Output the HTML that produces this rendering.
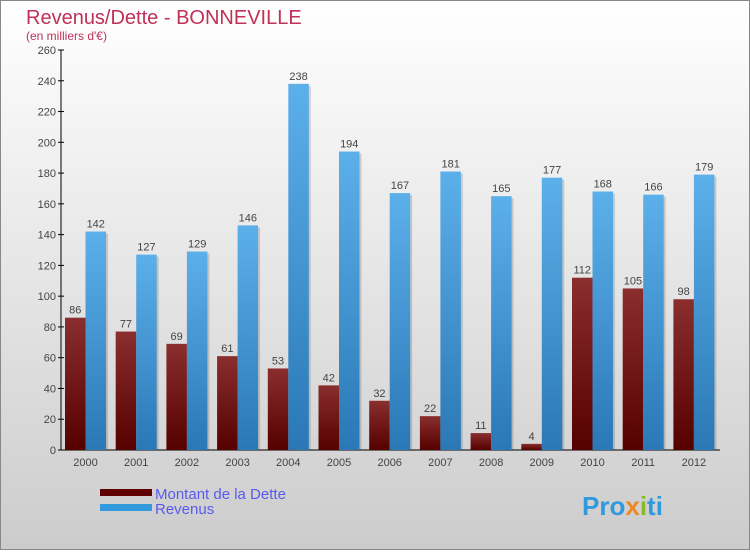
<!DOCTYPE html>
<html><head><meta charset="utf-8"><style>
body{margin:0;width:750px;height:550px;overflow:hidden;font-family:"Liberation Sans",sans-serif}
</style></head><body>
<svg width="750" height="550" xmlns="http://www.w3.org/2000/svg">
<defs>
<linearGradient id="bg" x1="0" y1="0" x2="0" y2="1"><stop offset="0" stop-color="#ffffff"/><stop offset="1" stop-color="#cccccc"/></linearGradient>
<linearGradient id="gd" x1="0" y1="0" x2="0" y2="1"><stop offset="0" stop-color="#8a2e2e"/><stop offset="1" stop-color="#560000"/></linearGradient>
<linearGradient id="gr" x1="0" y1="0" x2="0" y2="1"><stop offset="0" stop-color="#5cb0ea"/><stop offset="1" stop-color="#2a78b6"/></linearGradient>
</defs>
<rect x="0.5" y="0.5" width="749" height="549" fill="url(#bg)" stroke="#888"/>
<text x="26" y="24" font-size="20" fill="#c0305a">Revenus/Dette - BONNEVILLE</text>
<text x="26" y="40" font-size="12" fill="#c0305a">(en milliers d'€)</text>
<g id="axes"></g>
<g id="bars"></g>
<rect x="100" y="489" width="52" height="7" fill="#600000"/>
<text x="155" y="499" font-size="15" fill="#5a5aee">Montant de la Dette</text>
<rect x="100" y="504" width="52" height="7" fill="#3399dd"/>
<text x="155" y="514" font-size="15" fill="#5a5aee">Revenus</text>
<text x="582" y="515" font-size="26" font-weight="bold" fill="#3399dd">Pro<tspan fill="#ee8822">x</tspan><tspan fill="#88bb22">i</tspan>ti</text>
</svg>
<script>
const years=["2000","2001","2002","2003","2004","2005","2006","2007","2008","2009","2010","2011","2012"];
const dette=[86,77,69,61,53,42,32,22,11,4,112,105,98];
const revenus=[142,127,129,146,238,194,167,181,165,177,168,166,179];
const yTicks=[0,20,40,60,80,100,120,140,160,180,200,220,240,260];
const NS="http://www.w3.org/2000/svg";
const y0=450,ppu=400/260,x0=65,step=50.7,bw=20.5;
const y=v=>y0-v*ppu;
const ax=document.getElementById('axes'),bars=document.getElementById('bars');
function mk(tag,attrs,parent){const e=document.createElementNS(NS,tag);for(const k in attrs)e.setAttribute(k,attrs[k]);parent.appendChild(e);return e;}
let l=mk('line',{x1:61,y1:50,x2:61,y2:450,stroke:'#000'},ax);


l=mk('line',{x1:61,y1:450,x2:720,y2:450,stroke:'#000'},ax);


yTicks.forEach(t=>{
 const tk=mk('line',{x1:58,x2:64,y1:y(t),y2:y(t),stroke:'#000'},ax);
 
 
 const tx=mk('text',{x:56,y:y(t)+4,'font-size':11,'text-anchor':'end',fill:'#444'},ax);
 tx.textContent=t;
 
 
});
years.forEach((yr,i)=>{
 const gx=x0+i*step;
 const tx=mk('text',{x:gx+bw,y:466,'font-size':11,'text-anchor':'middle',fill:'#444'},ax);
 tx.textContent=yr;
 
 
 [[dette[i],gx,'url(#gd)','dette'],[revenus[i],gx+bw,'url(#gr)','revenus']].forEach(([v,x,f,n])=>{
  const sh=mk('rect',{x:x+2,y:y(v)+2,width:bw,height:v*ppu-2,fill:'rgba(0,0,0,0.15)'},bars);
  
  
  const r=mk('rect',{x:x,y:y(v),width:bw,height:v*ppu,fill:f},bars);
  
  
  const lb=mk('text',{x:x+bw/2,y:y(v)-4,'font-size':11,'text-anchor':'middle',fill:'#444'},bars);
  lb.textContent=v;
  
  
 });
});
</script>
</body></html>
